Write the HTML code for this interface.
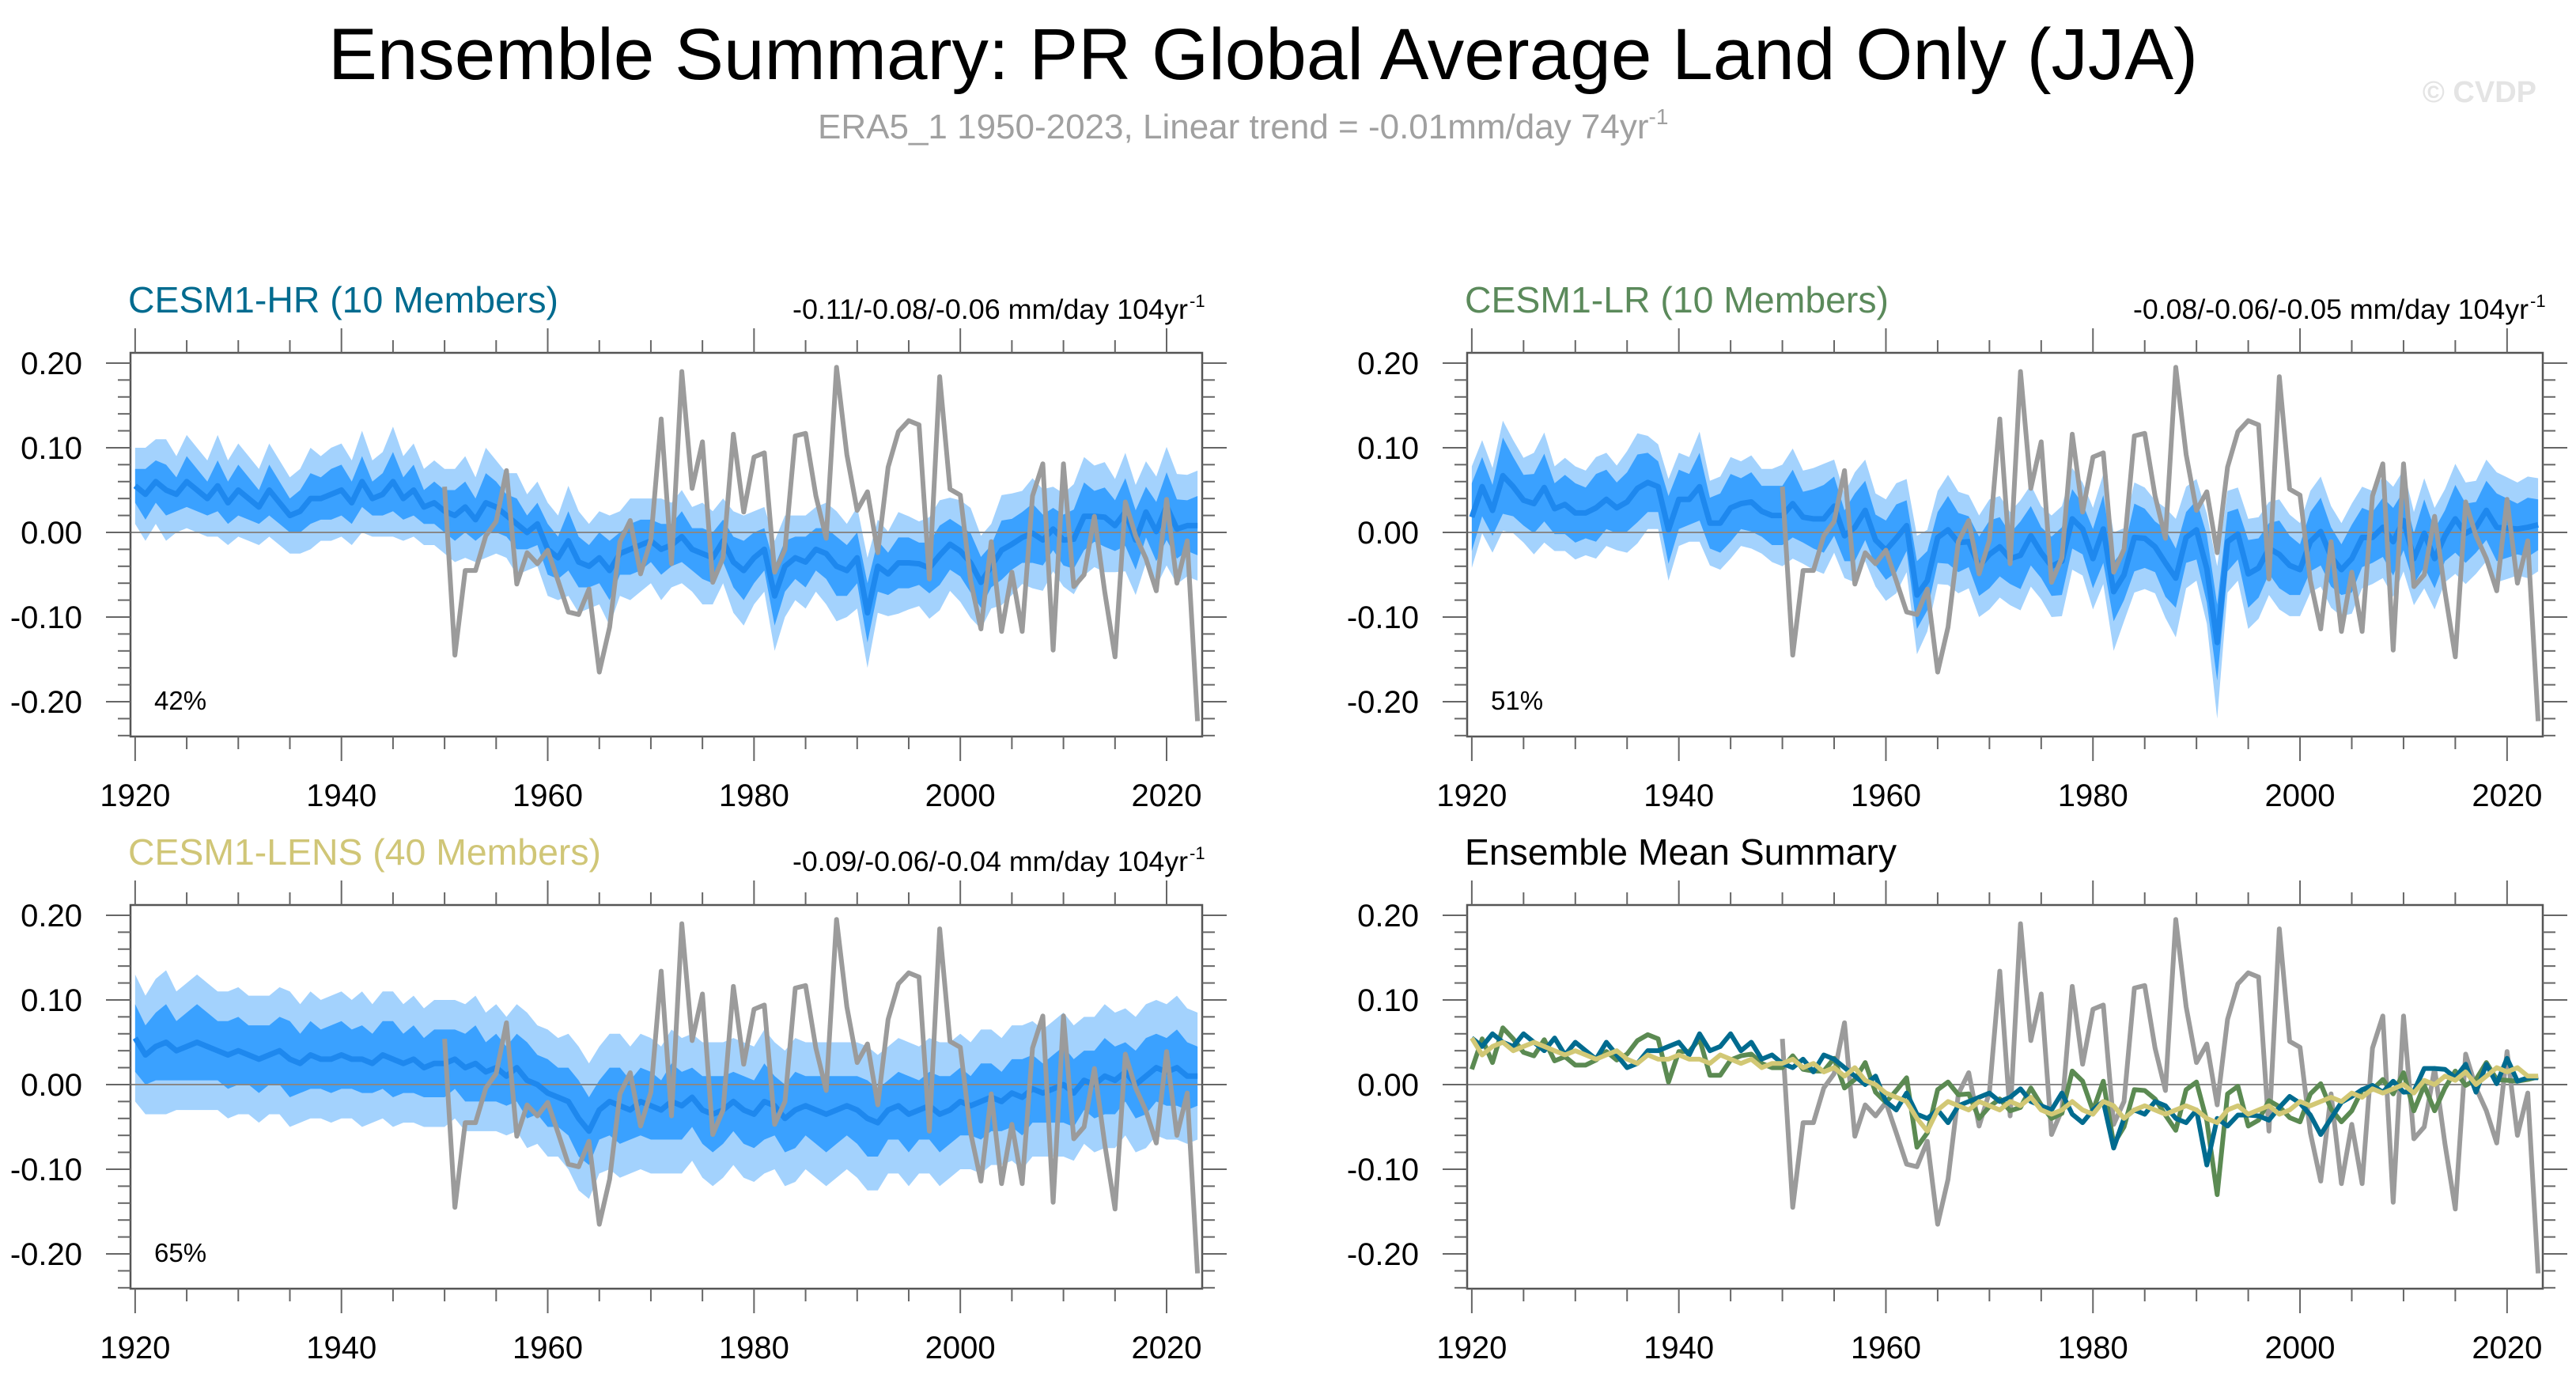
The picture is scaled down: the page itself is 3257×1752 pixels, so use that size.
<!DOCTYPE html>
<html><head><meta charset="utf-8"><title>Ensemble Summary</title>
<style>html,body{margin:0;padding:0;background:#fff}svg{display:block}text{font-family:"Liberation Sans",sans-serif}</style>
</head><body>
<svg id="chart" width="3257" height="1752" viewBox="0 0 3257 1752" xmlns="http://www.w3.org/2000/svg">
<text x="1597" y="100" font-size="92" text-anchor="middle" textLength="2364" lengthAdjust="spacingAndGlyphs" fill="#000">Ensemble Summary: PR Global Average Land Only (JJA)</text>
<text x="1034" y="175" font-size="44" fill="#a0a0a0">ERA5_1 1950-2023, Linear trend = -0.01mm/day 74yr<tspan dy="-18" font-size="28">-1</tspan></text>
<text x="3207" y="129" font-size="38" font-weight="bold" text-anchor="end" fill="#e4e4e4">© CVDP</text>
<g id="plots"></g>
</svg>
<script>
const years = []; for (let y = 1920; y <= 2023; y++) years.push(y);
const eraYears = []; for (let y = 1950; y <= 2023; y++) eraYears.push(y);
const eraValues = [0.054,-0.145,-0.045,-0.045,-0.004,0.013,0.073,-0.061,-0.024,-0.037,
-0.021,-0.057,-0.094,-0.097,-0.067,-0.165,-0.112,-0.011,0.014,-0.049,
-0.009,0.134,-0.037,0.19,0.052,0.107,-0.059,-0.03,0.116,0.024,
0.089,0.094,-0.047,-0.02,0.114,0.117,0.043,-0.007,0.195,0.092,
0.026,0.048,-0.024,0.077,0.119,0.132,0.127,-0.055,0.184,0.051,
0.044,-0.057,-0.114,-0.011,-0.117,-0.047,-0.117,0.043,0.081,-0.139,
0.081,-0.064,-0.05,0.019,-0.07,-0.147,0.036,-0.004,-0.031,-0.069,
0.039,-0.06,-0.01,-0.223];
const hrMean = [0.055,0.045,0.06,0.05,0.045,0.06,0.05,0.04,0.055,0.035,
0.05,0.04,0.03,0.05,0.035,0.02,0.025,0.04,0.04,0.045,
0.05,0.035,0.06,0.04,0.045,0.06,0.04,0.05,0.03,0.035,
0.025,0.02,0.03,0.015,0.035,0.03,0.02,0.01,0.0,0.01,
-0.02,-0.03,-0.01,-0.035,-0.04,-0.03,-0.045,-0.025,-0.02,-0.015,
-0.01,-0.02,-0.015,-0.005,-0.02,-0.025,-0.03,-0.01,-0.035,-0.045,
-0.03,-0.02,-0.075,-0.04,-0.03,-0.035,-0.02,-0.025,-0.04,-0.045,
-0.03,-0.095,-0.04,-0.049,-0.036,-0.036,-0.037,-0.042,-0.027,-0.014,
-0.022,-0.036,-0.059,-0.04,-0.021,-0.014,-0.006,-0.001,-0.009,0.004,
-0.009,-0.008,0.019,0.019,0.018,0.008,0.024,-0.009,0.024,0.001,
0.031,0.004,0.008,0.008];
const hrInner = [0.02,0.03,0.025,0.03,0.02,0.03,0.025,0.02,0.03,0.025,
0.03,0.025,0.02,0.03,0.025,0.02,0.025,0.03,0.025,0.03,
0.03,0.025,0.03,0.02,0.025,0.035,0.025,0.03,0.02,0.025,
0.025,0.03,0.03,0.025,0.035,0.03,0.025,0.03,0.02,0.025,
0.03,0.025,0.035,0.03,0.025,0.03,0.035,0.025,0.03,0.03,
0.025,0.03,0.025,0.03,0.025,0.03,0.03,0.025,0.03,0.035,
0.03,0.025,0.035,0.03,0.025,0.03,0.025,0.03,0.035,0.03,
0.03,0.035,0.03,0.025,0.03,0.03,0.025,0.03,0.035,0.03,
0.03,0.035,0.03,0.025,0.035,0.03,0.03,0.035,0.03,0.025,
0.03,0.035,0.04,0.03,0.035,0.03,0.04,0.035,0.03,0.035,
0.04,0.035,0.03,0.035];
const hrOuter = [0.045,0.055,0.05,0.06,0.045,0.055,0.05,0.045,0.06,0.05,
0.055,0.05,0.045,0.055,0.05,0.045,0.05,0.06,0.05,0.055,
0.055,0.05,0.06,0.045,0.05,0.065,0.05,0.055,0.045,0.05,
0.05,0.055,0.06,0.05,0.065,0.055,0.05,0.06,0.045,0.05,
0.055,0.05,0.065,0.06,0.05,0.055,0.065,0.05,0.06,0.055,
0.05,0.06,0.05,0.055,0.05,0.06,0.055,0.05,0.06,0.065,
0.055,0.05,0.065,0.06,0.05,0.055,0.05,0.06,0.065,0.055,
0.06,0.065,0.055,0.05,0.06,0.055,0.05,0.06,0.065,0.055,
0.06,0.065,0.055,0.05,0.065,0.06,0.055,0.065,0.06,0.05,
0.055,0.065,0.07,0.06,0.065,0.055,0.07,0.065,0.06,0.065,
0.07,0.065,0.06,0.065];
const lrMean = [0.018,0.054,0.026,0.067,0.054,0.038,0.034,0.053,0.028,0.033,
0.023,0.023,0.029,0.039,0.029,0.036,0.052,0.059,0.054,0.003,
0.039,0.039,0.054,0.011,0.011,0.029,0.034,0.036,0.025,0.02,
0.02,0.034,0.018,0.016,0.016,0.031,-0.004,0.006,0.026,-0.009,
-0.021,-0.007,0.008,-0.074,-0.057,-0.006,0.003,-0.012,-0.011,-0.04,
-0.026,-0.017,-0.031,-0.027,-0.004,-0.024,-0.04,-0.034,0.016,0.004,
-0.031,0.004,-0.07,-0.05,-0.006,-0.007,-0.017,-0.036,-0.054,-0.006,
0.003,-0.043,-0.13,-0.011,-0.002,-0.049,-0.042,-0.019,-0.026,-0.039,
-0.044,-0.011,0.001,-0.029,-0.044,-0.031,-0.006,-0.006,0.006,-0.011,
0.014,-0.031,-0.001,-0.031,-0.004,0.016,-0.001,0.006,0.026,0.006,
0.005,0.004,0.006,0.009];
const lrInner = [0.04,0.035,0.03,0.045,0.035,0.03,0.035,0.04,0.03,0.035,
0.035,0.03,0.04,0.035,0.03,0.035,0.04,0.035,0.03,0.04,
0.035,0.03,0.04,0.03,0.035,0.04,0.03,0.035,0.03,0.035,
0.035,0.04,0.03,0.035,0.04,0.035,0.03,0.04,0.035,0.03,
0.035,0.04,0.03,0.04,0.035,0.03,0.04,0.035,0.03,0.035,
0.04,0.035,0.03,0.04,0.035,0.03,0.035,0.04,0.035,0.03,
0.035,0.04,0.035,0.03,0.04,0.035,0.03,0.04,0.035,0.03,
0.035,0.04,0.045,0.035,0.03,0.04,0.035,0.03,0.04,0.035,
0.03,0.035,0.04,0.035,0.03,0.04,0.035,0.03,0.035,0.04,
0.035,0.03,0.04,0.035,0.03,0.04,0.035,0.03,0.035,0.04,
0.035,0.03,0.035,0.03];
const lrOuter = [0.06,0.055,0.05,0.065,0.055,0.05,0.06,0.065,0.05,0.055,
0.055,0.05,0.06,0.055,0.05,0.06,0.065,0.055,0.05,0.06,
0.055,0.05,0.065,0.05,0.055,0.06,0.05,0.055,0.05,0.055,
0.06,0.065,0.055,0.06,0.065,0.055,0.05,0.065,0.06,0.055,
0.06,0.065,0.055,0.07,0.06,0.055,0.065,0.06,0.055,0.06,
0.065,0.06,0.055,0.065,0.06,0.055,0.06,0.065,0.06,0.055,
0.06,0.065,0.07,0.055,0.065,0.06,0.055,0.065,0.07,0.06,
0.06,0.065,0.09,0.06,0.055,0.065,0.06,0.055,0.065,0.06,
0.055,0.06,0.065,0.06,0.055,0.065,0.06,0.055,0.06,0.065,
0.06,0.055,0.065,0.06,0.055,0.065,0.06,0.055,0.06,0.065,
0.06,0.055,0.06,0.055];
const lensMean = [0.055,0.035,0.045,0.05,0.04,0.045,0.05,0.045,0.04,0.035,
0.04,0.035,0.03,0.035,0.04,0.03,0.025,0.035,0.03,0.03,
0.035,0.03,0.03,0.025,0.035,0.03,0.025,0.03,0.02,0.025,
0.025,0.03,0.02,0.025,0.015,0.02,0.01,0.02,0.005,0.0,
-0.01,-0.015,-0.02,-0.04,-0.055,-0.03,-0.02,-0.025,-0.03,-0.02,
-0.025,-0.03,-0.02,-0.025,-0.015,-0.03,-0.035,-0.03,-0.02,-0.03,
-0.035,-0.02,-0.025,-0.04,-0.03,-0.025,-0.03,-0.035,-0.03,-0.025,
-0.03,-0.04,-0.045,-0.03,-0.025,-0.035,-0.03,-0.025,-0.035,-0.03,
-0.02,-0.025,-0.02,-0.015,-0.02,-0.01,-0.015,-0.005,-0.01,-0.005,
0.0,-0.01,0.005,0.0,0.01,0.005,0.015,0.0,0.01,0.02,
0.015,0.02,0.01,0.01];
const lensInner = [0.04,0.035,0.04,0.045,0.035,0.04,0.045,0.04,0.035,0.04,
0.04,0.035,0.04,0.035,0.04,0.045,0.035,0.04,0.035,0.04,
0.04,0.035,0.04,0.035,0.04,0.045,0.035,0.04,0.035,0.04,
0.04,0.035,0.04,0.045,0.035,0.04,0.035,0.04,0.045,0.035,
0.04,0.035,0.04,0.045,0.04,0.035,0.04,0.045,0.035,0.04,
0.04,0.035,0.045,0.04,0.035,0.04,0.045,0.04,0.035,0.04,
0.04,0.045,0.035,0.04,0.045,0.035,0.04,0.045,0.04,0.035,
0.04,0.045,0.04,0.035,0.04,0.045,0.035,0.04,0.045,0.04,
0.04,0.035,0.045,0.04,0.035,0.04,0.045,0.04,0.035,0.04,
0.045,0.04,0.035,0.04,0.045,0.04,0.035,0.04,0.045,0.04,
0.04,0.045,0.04,0.035];
const lensOuter = [0.075,0.07,0.08,0.085,0.07,0.075,0.08,0.075,0.07,0.075,
0.075,0.07,0.075,0.07,0.075,0.08,0.07,0.075,0.07,0.075,
0.075,0.07,0.08,0.07,0.075,0.08,0.07,0.075,0.07,0.075,
0.075,0.07,0.075,0.08,0.07,0.075,0.07,0.075,0.08,0.07,
0.075,0.07,0.08,0.085,0.08,0.075,0.08,0.085,0.075,0.08,
0.08,0.075,0.085,0.08,0.075,0.08,0.085,0.08,0.075,0.08,
0.08,0.085,0.075,0.08,0.085,0.075,0.08,0.085,0.08,0.075,
0.08,0.085,0.08,0.075,0.08,0.085,0.075,0.08,0.085,0.08,
0.08,0.075,0.085,0.08,0.075,0.08,0.085,0.08,0.075,0.08,
0.085,0.08,0.075,0.08,0.085,0.08,0.075,0.08,0.085,0.08,
0.08,0.085,0.08,0.075];
const yTickValues = [0.2, 0.1, 0.0, -0.1, -0.2];
const yTickLabels = ["0.20", "0.10", "0.00", "-0.10", "-0.20"];
const xTickValues = [1920, 1940, 1960, 1980, 2000, 2020];

const NS = "http://www.w3.org/2000/svg";
const root = document.getElementById("plots");
const X_MIN = 1919.55, X_MAX = 2023.45, Y_MAX = 0.2121, Y_MIN = -0.2411;
function el(tag, attrs, parent) { const e = document.createElementNS(NS, tag); for (const k in attrs) e.setAttribute(k, attrs[k]); (parent || root).appendChild(e); return e; }

function makePanel(p) {
  const g = el("g", {});
  
  
  const sx = v => p.x0 + (v - X_MIN) / (X_MAX - X_MIN) * (p.x1 - p.x0);
  const sy = v => p.y0 + (Y_MAX - v) / (Y_MAX - Y_MIN) * (p.y1 - p.y0);
  const band = (mean, w, color, nm) => {
    let pts = years.map((y, i) => sx(y) + "," + sy(mean[i] + w[i]));
    for (let i = years.length - 1; i >= 0; i--) pts.push(sx(years[i]) + "," + sy(mean[i] - w[i]));
    const b = el("polygon", { points: pts.join(" "), fill: color }, g);
    
    
  };
  const line = (xs, vals, color, w, nm) => {
    const l = el("polyline", { points: xs.map((y, i) => sx(y) + "," + sy(vals[i])).join(" "), fill: "none", stroke: color, "stroke-width": w, "stroke-linejoin": "round" }, g);
    
    
  };
  if (p.mean) {
    band(p.mean, p.outer, "#a3d2fd", "outer-spread-band");
    band(p.mean, p.inner, "#3aa1ff", "inner-spread-band");
  }
  const z = el("line", { x1: p.x0, x2: p.x1, y1: sy(0), y2: sy(0), stroke: "#888", "stroke-width": 2 }, g);
  
  
  if (p.mean) {
    line(years, p.mean, "#1e88ee", 7, "ensemble-mean-line");
    line(eraYears, eraValues, "#9b9b9b", 6, "era5-line");
  } else {
    line(eraYears, eraValues, "#9b9b9b", 6, "era5-line");
    line(years, lrMean, "#5b8a52", 6, "cesm1-lr-mean-line");
    line(years, hrMean, "#006b8f", 6, "cesm1-hr-mean-line");
    line(years, lensMean, "#d2c875", 6, "cesm1-lens-mean-line");
  }
  const fr = el("rect", { x: p.x0, y: p.y0, width: p.x1 - p.x0, height: p.y1 - p.y0, fill: "none", stroke: "#555", "stroke-width": 2.5 }, g);
  
  
  for (let k = -12; k <= 10; k++) {
    const v = k * 0.02; const yy = sy(v); const major = k % 5 === 0; const L = major ? 31 : 16;
    el("line", { x1: p.x0 - L, x2: p.x0, y1: yy, y2: yy, stroke: "#666", "stroke-width": 2 }, g);
    el("line", { x1: p.x1, x2: p.x1 + L, y1: yy, y2: yy, stroke: "#666", "stroke-width": 2 }, g);
  }
  for (let yr = 1920; yr <= 2020; yr += 5) {
    const xx = sx(yr); const major = yr % 20 === 0; const L = major ? 31 : 16;
    el("line", { x1: xx, x2: xx, y1: p.y1, y2: p.y1 + L, stroke: "#666", "stroke-width": 2 }, g);
    el("line", { x1: xx, x2: xx, y1: p.y0 - L, y2: p.y0, stroke: "#666", "stroke-width": 2 }, g);
  }
  yTickValues.forEach((v, i) => {
    const t = el("text", { x: p.x0 - 61, y: sy(v) + 14, "font-size": 40, "text-anchor": "end", fill: "#000" }, g);
    t.textContent = yTickLabels[i];
    
    
  });
  xTickValues.forEach(v => {
    const t = el("text", { x: sx(v), y: p.y1 + 88, "font-size": 40, "text-anchor": "middle", fill: "#000" }, g);
    t.textContent = String(v);
    
    
  });
  const tt = el("text", { x: p.x0 - 3, y: p.y0 - 51, "font-size": 46, fill: p.titleColor, textLength: p.titleLen, lengthAdjust: "spacingAndGlyphs" }, g);
  tt.textContent = p.title;
  
  
  if (p.trend) {
    const tr = el("text", { x: p.x1 - 518, y: p.y0 - 43, "font-size": 35, fill: "#000", textLength: 500, lengthAdjust: "spacingAndGlyphs" }, g);
    tr.textContent = p.trend + " mm/day 104yr";
    
    
    const sup = el("text", { x: p.x1 - 16, y: p.y0 - 58, "font-size": 22, fill: "#000" }, g);
    sup.textContent = "-1";
    
    
    const pc = el("text", { x: p.x0 + 30, y: p.y1 - 34, "font-size": 33, fill: "#000" }, g);
    pc.textContent = p.pct;
    
    
  }
}
makePanel({ name: "cesm1-hr-panel", x0: 165, x1: 1520, y0: 446, y1: 931, mean: hrMean, inner: hrInner, outer: hrOuter, title: "CESM1-HR (10 Members)", titleColor: "#006b8f", titleLen: 544, trend: "-0.11/-0.08/-0.06", pct: "42%" });
makePanel({ name: "cesm1-lr-panel", x0: 1855, x1: 3215, y0: 446, y1: 931, mean: lrMean, inner: lrInner, outer: lrOuter, title: "CESM1-LR (10 Members)", titleColor: "#5b8a5b", titleLen: 536, trend: "-0.08/-0.06/-0.05", pct: "51%" });
makePanel({ name: "cesm1-lens-panel", x0: 165, x1: 1520, y0: 1144, y1: 1629, mean: lensMean, inner: lensInner, outer: lensOuter, title: "CESM1-LENS (40 Members)", titleColor: "#d0c677", titleLen: 598, trend: "-0.09/-0.06/-0.04", pct: "65%" });
makePanel({ name: "ensemble-mean-summary-panel", x0: 1855, x1: 3215, y0: 1144, y1: 1629, title: "Ensemble Mean Summary", titleColor: "#000", titleLen: 546 });
</script>
</body></html>
